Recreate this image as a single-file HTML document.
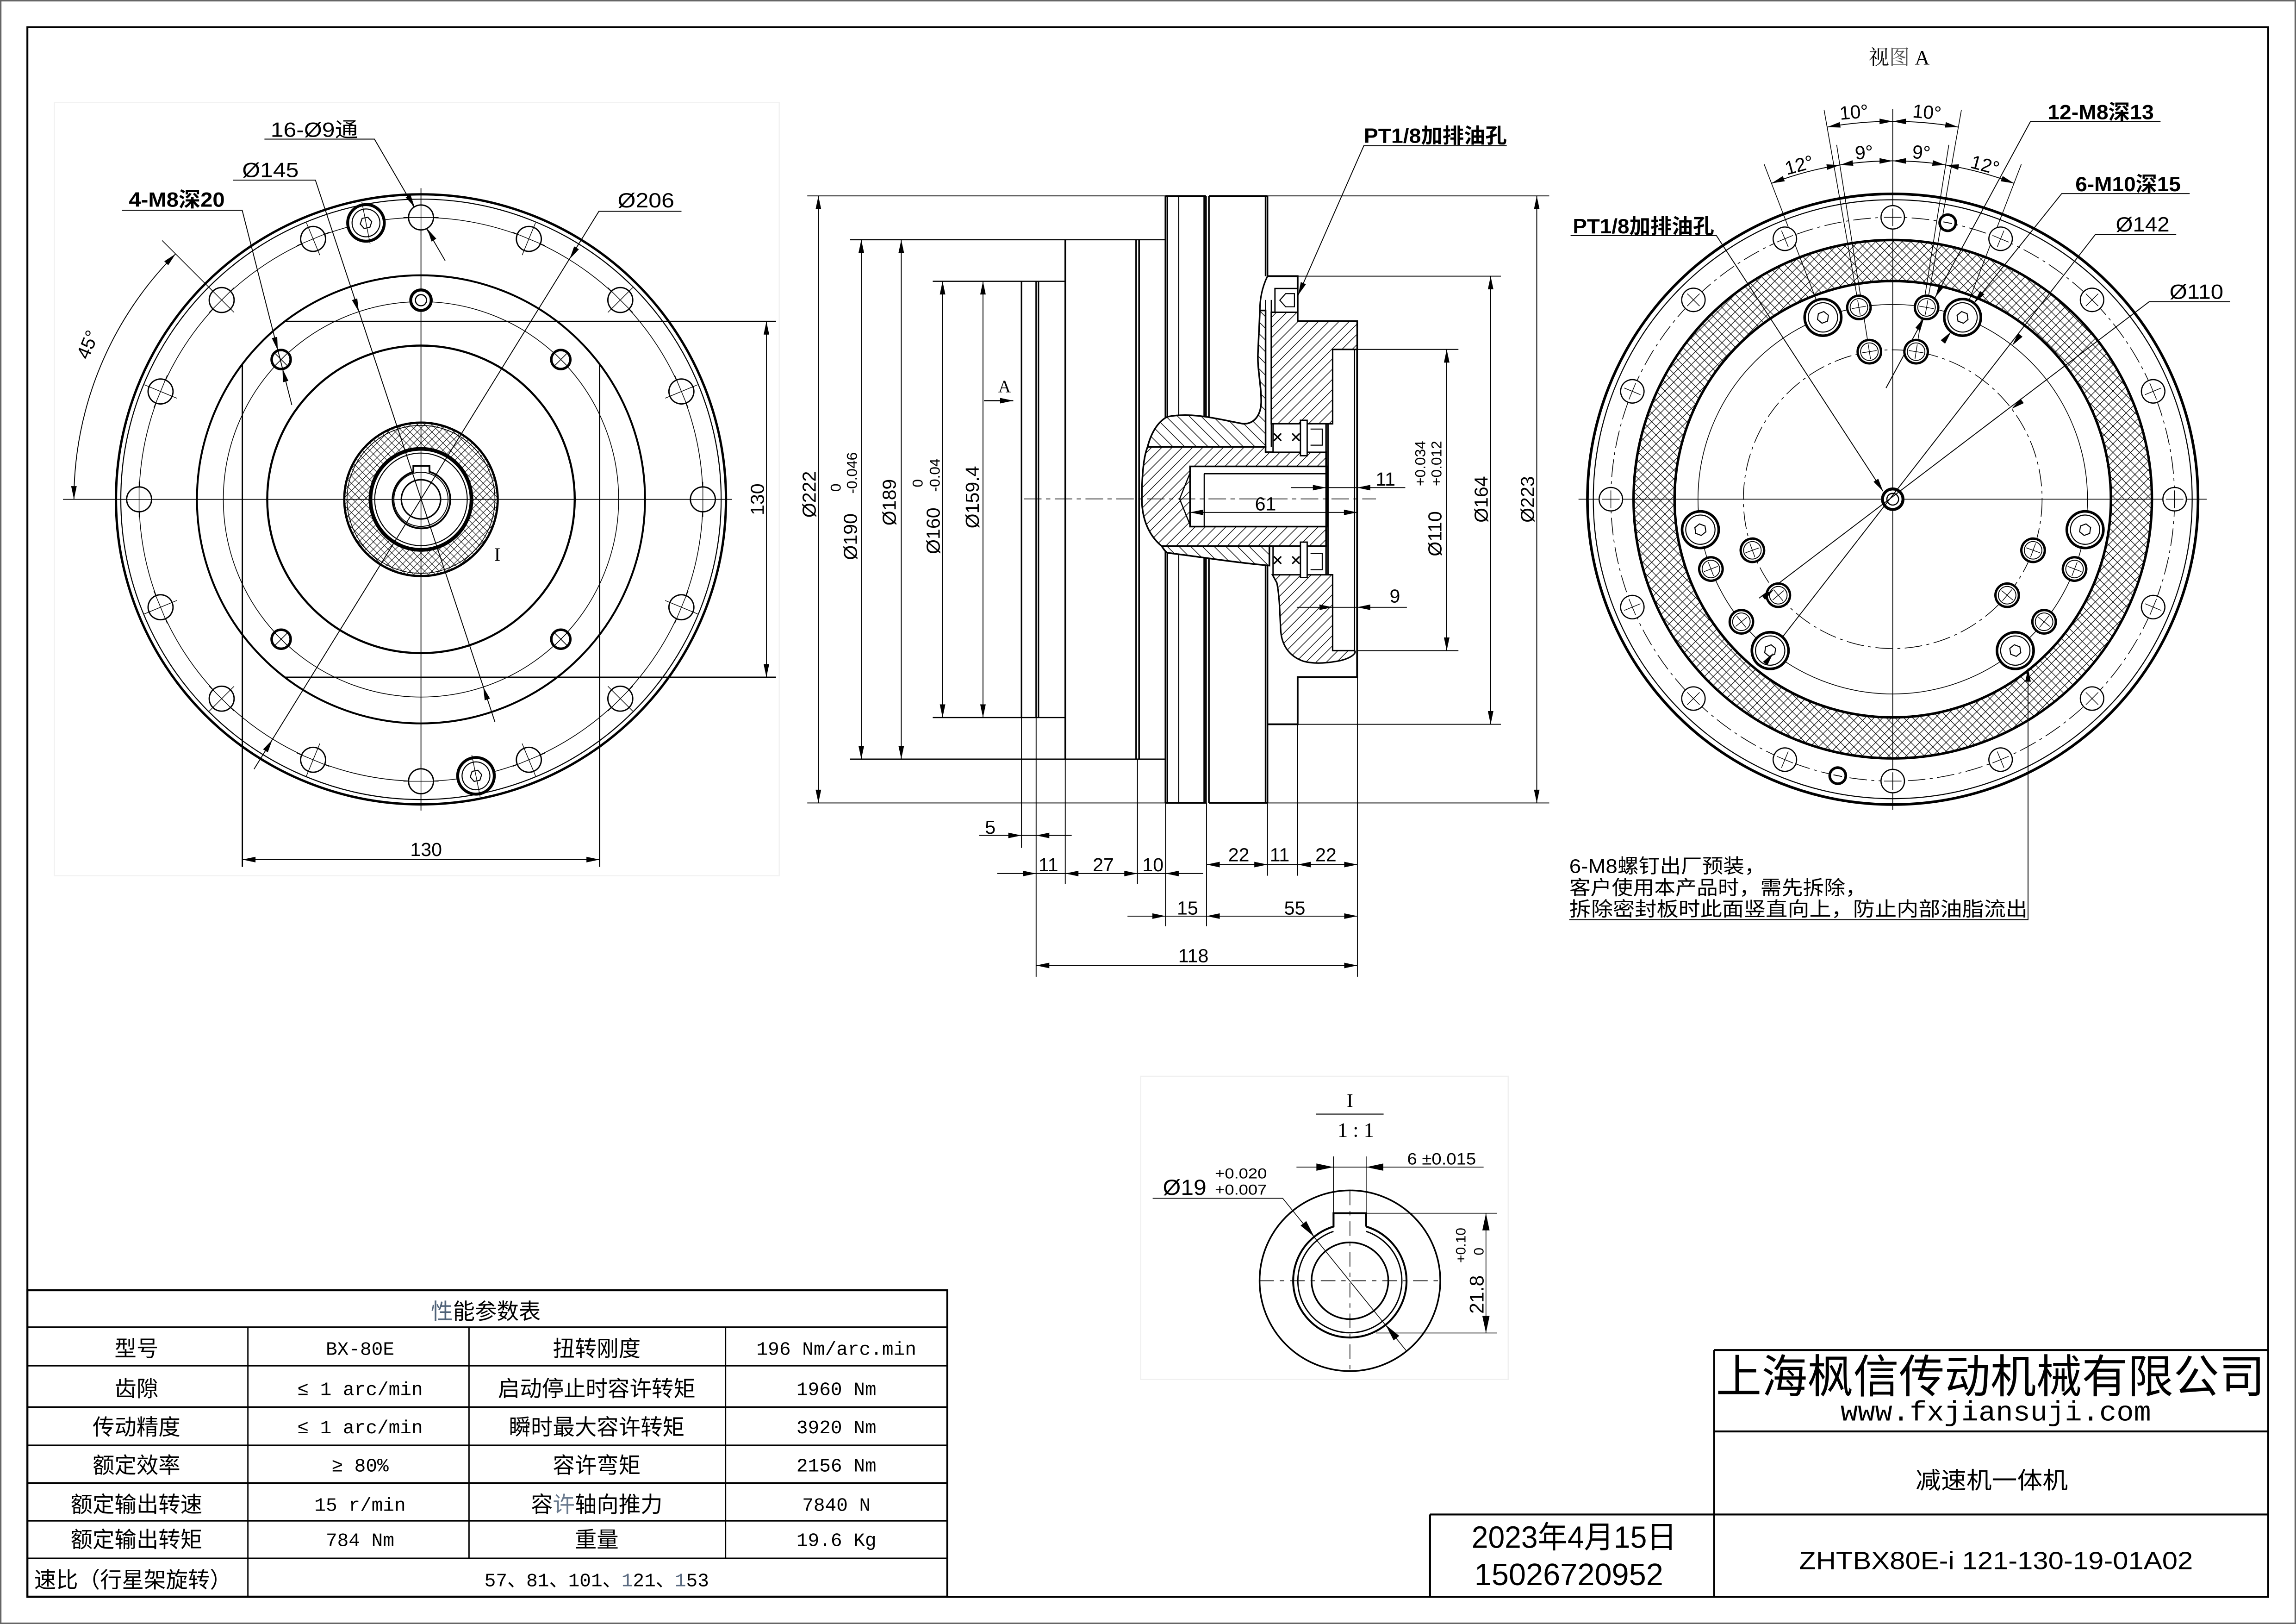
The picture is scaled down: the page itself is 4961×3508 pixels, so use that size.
<!DOCTYPE html>
<html><head><meta charset="utf-8">
<style>
html,body{margin:0;padding:0;background:#fff;}
svg{display:block;}
text{font-family:"Liberation Sans","Noto Sans CJK SC",sans-serif;fill:#000;stroke:none;}
text.sf,.sf text{font-family:"Liberation Serif","Noto Serif CJK SC",serif;}
text.mo,.mo text{font-family:"Liberation Mono","Noto Sans CJK SC",monospace;}
text.cj,.cj text{font-family:"Liberation Sans","Noto Sans CJK SC",sans-serif;}
</style></head><body>
<svg xmlns="http://www.w3.org/2000/svg" width="4961" height="3508" viewBox="0 0 1568 1109" preserveAspectRatio="none">
<defs>
 <path id="ah" d="M0 0 L-9 -1.9 L-9 1.9 Z" fill="#000" stroke="none"/>
 <pattern id="xh" patternUnits="userSpaceOnUse" width="5" height="5">
   <rect width="5" height="5" fill="#fff"/>
   <path d="M0 0 L5 5 M5 0 L0 5" stroke="#000" stroke-width="0.35"/>
 </pattern>
 <pattern id="xh2" patternUnits="userSpaceOnUse" width="6" height="6">
   <rect width="6" height="6" fill="#fff"/>
   <path d="M0 0 L6 6 M6 0 L0 6" stroke="#000" stroke-width="0.4"/>
 </pattern>
 <pattern id="fw" patternUnits="userSpaceOnUse" width="7" height="7">
   <rect width="7" height="7" fill="#fff"/>
   <path d="M-1 1 L1 -1 M0 7 L7 0 M6 8 L8 6" stroke="#000" stroke-width="0.45"/>
 </pattern>
 <pattern id="bw" patternUnits="userSpaceOnUse" width="8" height="8">
   <rect width="8" height="8" fill="#fff"/>
   <path d="M-1 7 L1 9 M0 0 L8 8 M7 -1 L9 1" stroke="#000" stroke-width="0.45"/>
 </pattern>
 <g id="hL">
   <circle cx="0" cy="-192.5" r="8.5" fill="#fff" stroke="#000" stroke-width="0.9"/>
   <path d="M0 -204.5 V-180.5 M-12 -192.5 H12" stroke="#000" stroke-width="0.45" fill="none"/>
 </g>
 <g id="scr">
   <circle cx="0" cy="-192.5" r="12.5" fill="#fff" stroke="#000" stroke-width="2"/>
   <circle cx="0" cy="-192.5" r="9.5" fill="none" stroke="#000" stroke-width="0.7"/>
   <polygon points="4,-192.5 2,-189 -2,-189 -4,-192.5 -2,-196 2,-196" fill="none" stroke="#000" stroke-width="0.7"/>
   <path d="M0 -207 V-178" stroke="#000" stroke-width="0.45"/>
 </g>
 <g id="hR">
   <circle cx="0" cy="-192.5" r="8" fill="#fff" stroke="#000" stroke-width="0.8"/>
   <path d="M0 -198.5 V-186.5 M-6 -192.5 H6" stroke="#000" stroke-width="0.45" fill="none"/>
 </g>
 <g id="m10">
   <circle cx="0" cy="-133" r="12.5" fill="#fff" stroke="#000" stroke-width="1.8"/>
   <circle cx="0" cy="-133" r="10" fill="none" stroke="#000" stroke-width="0.7"/>
   <polygon points="4,-133 2,-129.5 -2,-129.5 -4,-133 -2,-136.5 2,-136.5" fill="none" stroke="#000" stroke-width="0.7"/>
 </g>
 <g id="m8a">
   <circle cx="0" cy="-133" r="8" fill="#fff" stroke="#000" stroke-width="1.6"/>
   <circle cx="0" cy="-133" r="6" fill="none" stroke="#000" stroke-width="0.6"/>
   <path d="M0 -138 V-128 M-5 -133 H5" stroke="#000" stroke-width="0.45"/>
 </g>
 <g id="m8b">
   <circle cx="0" cy="-102" r="8" fill="#fff" stroke="#000" stroke-width="1.6"/>
   <circle cx="0" cy="-102" r="6" fill="none" stroke="#000" stroke-width="0.6"/>
   <path d="M0 -107 V-97 M-5 -102 H5" stroke="#000" stroke-width="0.45"/>
 </g>
 <g id="plug">
   <circle cx="0" cy="-192.5" r="5.5" fill="#fff" stroke="#000" stroke-width="1.8"/>
   <path d="M-3 -192.5 H3" stroke="#000" stroke-width="0.6"/>
 </g>
</defs>

<rect x="0" y="0" width="1568" height="1109" fill="#fff"/>
<rect x="0.5" y="0.5" width="1567" height="1108" fill="none" stroke="#666" stroke-width="1"/>
<!-- frame -->
<rect x="18.7" y="18.6" width="1530.3" height="1071.9" fill="none" stroke="#000" stroke-width="1.3"/>
<rect x="37.2" y="70" width="495" height="528" fill="none" stroke="#f2f2f2" stroke-width="0.8"/>

<!-- ================= LEFT VIEW ================= -->
<g fill="none" stroke="#000">
 <circle cx="287.5" cy="341" r="208.3" stroke-width="1.6"/>
 <circle cx="287.5" cy="341" r="205" stroke-width="0.7"/>
 <circle cx="287.5" cy="341" r="192.5" stroke-width="0.5"/>
 <circle cx="287.5" cy="341" r="153" stroke-width="1.3"/>
 <circle cx="287.5" cy="341" r="135" stroke-width="0.5"/>
 <circle cx="287.5" cy="341" r="105" stroke-width="1.4"/>
 <path d="M165.5 248.7 V592 M409.5 248.7 V592 M194.5 219.5 H530 M194.5 462.5 H530" stroke-width="0.9"/>
 <path d="M43 341 H500 M287.5 128.5 V553.5" stroke-width="0.5"/>
 <!-- hub -->
 <circle cx="287.5" cy="341" r="52.4" fill="url(#xh)" stroke-width="1.5"/>
 <circle cx="287.5" cy="341" r="50.5" stroke-width="0.5"/>
 <circle cx="287.5" cy="341" r="34.5" fill="#fff" stroke-width="2.5"/>
 <circle cx="287.5" cy="341" r="31.6" stroke-width="0.7"/>
 <path d="M282.3 322.2 V318.2 H293.3 V322.2 A19.7 19.7 0 1 1 282.3 322.2 Z" stroke-width="1.2"/>
 <circle cx="287.5" cy="341" r="18.5" stroke-width="0.6"/>
 <circle cx="287.5" cy="341" r="13.4" stroke-width="1"/>
 <path d="M43 341 H500 M287.5 128.5 V553.5" stroke-width="0.5"/>
 <!-- small double circle -->
 <circle cx="287.5" cy="205" r="7" fill="#fff" stroke-width="2"/>
 <circle cx="287.5" cy="205" r="3.8" stroke-width="0.8"/>
 <!-- M8 holes -->
 <g stroke-width="1.7" fill="#fff">
  <circle cx="192" cy="245.5" r="6.5"/><circle cx="383" cy="245.5" r="6.5"/>
  <circle cx="192" cy="436.5" r="6.5"/><circle cx="383" cy="436.5" r="6.5"/>
 </g>
 <path d="M187 240.5 l10 10 M187 250.5 l10 -10 M378 240.5 l10 10 M378 250.5 l10 -10 M187 431.5 l10 10 M187 441.5 l10 -10 M378 431.5 l10 10 M378 441.5 l10 -10" stroke-width="0.5"/>
 <!-- leaders -->
 <path d="M180.6 95 H255.7 L304 178" stroke-width="0.6"/>
 <path d="M159 123 H215.4 L338 493" stroke-width="0.6"/>
 <path d="M83.2 143.6 H165.4 L199.3 276.6" stroke-width="0.6"/>
 <path d="M465.4 144.3 H409 L173.5 525.2" stroke-width="0.6"/>
 <path d="M50.5 341 A237 237 0 0 1 119.9 173.4" stroke-width="0.6"/>
 <path d="M151.4 204.9 L110.7 164.2" stroke-width="0.5"/>
 <path d="M523.4 219.5 V462.5 M165.5 587 H409.5" stroke-width="0.6"/>
</g>
<use href="#hL" transform="translate(287.5 341) rotate(0)"/>
<use href="#hL" transform="translate(287.5 341) rotate(22.5)"/>
<use href="#hL" transform="translate(287.5 341) rotate(45)"/>
<use href="#hL" transform="translate(287.5 341) rotate(67.5)"/>
<use href="#hL" transform="translate(287.5 341) rotate(90)"/>
<use href="#hL" transform="translate(287.5 341) rotate(112.5)"/>
<use href="#hL" transform="translate(287.5 341) rotate(135)"/>
<use href="#hL" transform="translate(287.5 341) rotate(157.5)"/>
<use href="#hL" transform="translate(287.5 341) rotate(180)"/>
<use href="#hL" transform="translate(287.5 341) rotate(202.5)"/>
<use href="#hL" transform="translate(287.5 341) rotate(225)"/>
<use href="#hL" transform="translate(287.5 341) rotate(247.5)"/>
<use href="#hL" transform="translate(287.5 341) rotate(270)"/>
<use href="#hL" transform="translate(287.5 341) rotate(292.5)"/>
<use href="#hL" transform="translate(287.5 341) rotate(315)"/>
<use href="#hL" transform="translate(287.5 341) rotate(337.5)"/>
<use href="#scr" transform="translate(287.5 341) rotate(-11.25)"/>
<use href="#scr" transform="translate(287.5 341) rotate(168.75)"/>
<!-- left arrows -->
<use href="#ah" transform="translate(283.2 141.6) rotate(59.8)"/>
<use href="#ah" transform="translate(291.8 156.2) rotate(239.8)"/>
<use href="#ah" transform="translate(245 212.9) rotate(71.7)"/>
<use href="#ah" transform="translate(330 469.1) rotate(251.7)"/>
<use href="#ah" transform="translate(189.7 239.2) rotate(75.7)"/>
<use href="#ah" transform="translate(192.9 251.8) rotate(255.7)"/>
<use href="#ah" transform="translate(389 176.9) rotate(121.7)"/>
<use href="#ah" transform="translate(186 505.1) rotate(301.7)"/>
<use href="#ah" transform="translate(50.5 341) rotate(90)"/>
<use href="#ah" transform="translate(119.9 173.4) rotate(-45)"/>
<use href="#ah" transform="translate(523.4 219.5) rotate(-90)"/>
<use href="#ah" transform="translate(523.4 462.5) rotate(90)"/>
<use href="#ah" transform="translate(165.5 587) rotate(180)"/>
<use href="#ah" transform="translate(409.5 587) rotate(0)"/>
<!-- left texts -->
<text x="184.8" y="93.5" font-size="14" textLength="59.7" lengthAdjust="spacingAndGlyphs">16-Ø9通</text>
<text x="165.4" y="121" font-size="14" textLength="38.6" lengthAdjust="spacingAndGlyphs">Ø145</text>
<text x="88" y="141.2" font-size="14" font-weight="bold" textLength="65.5" lengthAdjust="spacingAndGlyphs">4-M8深20</text>
<text x="421.8" y="141.6" font-size="14" textLength="38.7" lengthAdjust="spacingAndGlyphs">Ø206</text>
<text transform="translate(64 237) rotate(-67.5)" font-size="13" text-anchor="middle">45°</text>
<text transform="translate(521.7 341) rotate(-90)" font-size="13" text-anchor="middle">130</text>
<text x="291" y="584.6" font-size="13" text-anchor="middle">130</text>
<text x="339.6" y="383" font-size="13" class="sf" text-anchor="middle">I</text>

<!-- ================= SECTION VIEW ================= -->
<g fill="none" stroke="#000">
 <path d="M551.3 133.8 H796 M865.6 133.8 H1058 M551.3 548.3 H796 M865.6 548.3 H1058" stroke-width="0.6"/>
 <path d="M580.5 163.7 H796 M580.5 518.4 H796" stroke-width="0.8"/>
 <path d="M637 192.1 H727.5 M637 490 H727.5" stroke-width="0.8"/>
 <path d="M926.8 238.6 H996 M926.8 444.3 H996 M886.2 188.6 H1025 M886.2 494.6 H1025" stroke-width="0.6"/>
 <path d="M558.9 133.8 V548.3 M588.2 163.7 V518.4 M615.5 163.7 V518.4 M643.7 192.1 V490 M671.3 192.1 V490 M988 238.6 V444.3 M1018 188.6 V494.6 M1049.5 133.8 V548.3" stroke-width="0.6"/>
 <path d="M697.6 192.1 V490 M707.6 192.1 V490 M709.2 192.1 V490" stroke-width="1"/>
 <path d="M727.5 163.7 V518.4 M775.9 163.7 V518.4 M777.9 163.7 V518.4" stroke-width="1.1"/>
 <path d="M795.9 133.8 V548.3 M797.2 133.8 V548.3 M822.4 133.8 V548.3 M823.6 133.8 V548.3 M795.9 133.8 H823.6 M795.9 548.3 H823.6" stroke-width="1.1"/>
 <path d="M805 133.8 V548.3" stroke-width="0.7"/>
 <path d="M825.6 133.8 V548.3 M825.6 133.8 H865.6 M825.6 548.3 H865.6 M864.3 133.8 V188.6 M865.6 133.8 V188.6 M864.3 386.2 V548.3 M865.6 386.2 V548.3" stroke-width="1.1"/>
 <path d="M865.6 188.6 H886.2 V219.3 H926.8 V462.4 H886.2 V494.6 H865.6" stroke-width="1.2"/>
 <path d="M925 238.6 V444.3 M910.1 238.6 H925 M910.1 444.3 H925" stroke-width="0.9"/>
 <path d="M868.2 213.2 H886.2 V219.3 H926.8 V238.6 H910.1 V289.4 H868.2 Z" fill="url(#fw)" stroke-width="1"/>
 <path d="M869 392.5 H910.1 V444.3 H925 C927 446 922 450 913.3 451.5 C905 453 897 453.5 890 451.5 C880 448 875 440 874.6 429.7 C874 420 874 408 872 398 Z" fill="url(#fw)" stroke-width="1"/>
 <rect x="870.7" y="197" width="15.5" height="16.2" fill="#fff" stroke-width="0.9"/>
 <path d="M874 205 L878 200.5 H884 V209.5 H878 Z" stroke-width="0.7"/>
 <path d="M865.6 188.6 C862 196 860.4 204 860.4 212" stroke-width="1"/>
 <path d="M864.3 204.8 V305.2 M868.2 204.8 V305.2" stroke-width="0.8"/>
 <path d="M797.2 284.6 C815 281 835 287 849 289.4 C857 289.5 861 283 861.3 275 C861.5 263 858.5 252 859.1 241 C859.6 229 860.2 219 860.4 212 L864.3 212 L864.3 305.2 L783.7 305.2 C786 296 790.5 288 797.2 284.6 Z" fill="url(#bw)" stroke-width="1.1"/>
 <path d="M783.7 305.2 L864.3 305.2 L864.3 308.8 L905.6 308.8 L905.6 372.9 L793.3 372.9 C785 366 779.8 355 779.8 340.7 C779.8 325 781 312 783.7 305.2 Z" fill="url(#fw)" stroke-width="1.1"/>
 <path d="M793.3 372.9 L866.9 372.9 L866.9 386.2 C842 384 818 380 797.2 377.5 C795.5 376.5 794.5 374.5 793.3 372.9 Z" fill="url(#bw)" stroke-width="1.1"/>
 <rect x="812.7" y="318.5" width="93.5" height="41.1" fill="#fff" stroke-width="1.1"/>
 <path d="M822.4 323.5 H905.6 M822.4 323.5 V359.6 M812.7 323 L805.6 340.7 L812.7 358.4" stroke-width="0.8"/>
 <rect x="869.4" y="289.4" width="36.2" height="19.4" fill="#fff" stroke-width="0.9"/>
 <rect x="869.4" y="372.9" width="36.2" height="19.6" fill="#fff" stroke-width="0.9"/>
 <path d="M870 296 l5 5 M870 301 l5 -5 M882.5 296 l5 5 M882.5 301 l5 -5 M870 380 l5 5 M870 385 l5 -5 M882.5 380 l5 5 M882.5 385 l5 -5" stroke-width="1"/>
 <rect x="888.1" y="287" width="4.6" height="24.2" fill="#fff" stroke-width="0.9"/>
 <rect x="888.1" y="370.2" width="4.6" height="24.2" fill="#fff" stroke-width="0.9"/>
 <path d="M895 293 H903 V304 H895 M895 378 H903 V389 H895" stroke-width="0.7"/>
 <path d="M905.6 289.4 V392.5 M906.9 289.4 V392.5" stroke-width="1"/>
 <path d="M699.3 340.7 H939.7" stroke-width="0.5" stroke-dasharray="12 3 3 3"/>
 <path d="M881.7 333 H959.7 M812.7 349.9 H926.8 M885.6 414.7 H960.8" stroke-width="0.6"/>
 <path d="M697.6 490 V579 M707.6 490 V667 M727.5 518.4 V603.8 M776.8 518.4 V603.8 M796 548.3 V632.5 M824 548.3 V632.5 M865.6 548.3 V598 M886.2 494.6 V598 M927 462.4 V667" stroke-width="0.6"/>
 <path d="M668.7 570.5 H731.9 M681 596.5 H821.7 M824 590.4 H927 M770 625.6 H927 M707.6 659.3 H927" stroke-width="0.6"/>
 <path d="M1029 99.5 H931.4 L886.5 201.6" stroke-width="0.6"/>
 <path d="M672 273.6 H692" stroke-width="0.8"/>
</g>
<use href="#ah" transform="translate(558.9 133.8) rotate(-90)"/><use href="#ah" transform="translate(558.9 548.3) rotate(90)"/>
<use href="#ah" transform="translate(588.2 163.7) rotate(-90)"/><use href="#ah" transform="translate(588.2 518.4) rotate(90)"/>
<use href="#ah" transform="translate(615.5 163.7) rotate(-90)"/><use href="#ah" transform="translate(615.5 518.4) rotate(90)"/>
<use href="#ah" transform="translate(643.7 192.1) rotate(-90)"/><use href="#ah" transform="translate(643.7 490) rotate(90)"/>
<use href="#ah" transform="translate(671.3 192.1) rotate(-90)"/><use href="#ah" transform="translate(671.3 490) rotate(90)"/>
<use href="#ah" transform="translate(988 238.6) rotate(-90)"/><use href="#ah" transform="translate(988 444.3) rotate(90)"/>
<use href="#ah" transform="translate(1018 188.6) rotate(-90)"/><use href="#ah" transform="translate(1018 494.6) rotate(90)"/>
<use href="#ah" transform="translate(1049.5 133.8) rotate(-90)"/><use href="#ah" transform="translate(1049.5 548.3) rotate(90)"/>
<use href="#ah" transform="translate(905.6 333) rotate(0)"/><use href="#ah" transform="translate(926.8 333) rotate(180)"/>
<use href="#ah" transform="translate(812.7 349.9) rotate(180)"/><use href="#ah" transform="translate(926.8 349.9) rotate(0)"/>
<use href="#ah" transform="translate(910.1 414.7) rotate(0)"/><use href="#ah" transform="translate(926.8 414.7) rotate(180)"/>
<use href="#ah" transform="translate(697.6 570.5) rotate(0)"/><use href="#ah" transform="translate(707.6 570.5) rotate(180)"/>
<use href="#ah" transform="translate(707.6 596.5) rotate(0)"/><use href="#ah" transform="translate(727.5 596.5) rotate(180)"/>
<use href="#ah" transform="translate(776.8 596.5) rotate(0)"/><use href="#ah" transform="translate(796 596.5) rotate(180)"/>
<use href="#ah" transform="translate(824 590.4) rotate(180)"/><use href="#ah" transform="translate(865.6 590.4) rotate(0)"/>
<use href="#ah" transform="translate(886.2 590.4) rotate(180)"/><use href="#ah" transform="translate(927 590.4) rotate(0)"/>
<use href="#ah" transform="translate(796 625.6) rotate(0)"/><use href="#ah" transform="translate(824 625.6) rotate(180)"/>
<use href="#ah" transform="translate(927 625.6) rotate(0)"/>
<use href="#ah" transform="translate(707.6 659.3) rotate(180)"/><use href="#ah" transform="translate(927 659.3) rotate(0)"/>
<use href="#ah" transform="translate(886.5 201.6) rotate(113.6)"/>
<use href="#ah" transform="translate(692 273.6) rotate(0)"/>
<text transform="translate(557 337.6) rotate(-90)" font-size="13" text-anchor="middle">Ø222</text>
<text transform="translate(585.2 366.5) rotate(-90)" font-size="13" text-anchor="middle">Ø190</text>
<text transform="translate(585.2 323) rotate(-90)" font-size="10" text-anchor="middle">-0.046</text>
<text transform="translate(574.2 333) rotate(-90)" font-size="10" text-anchor="middle">0</text>
<text transform="translate(611.8 343) rotate(-90)" font-size="13" text-anchor="middle">Ø189</text>
<text transform="translate(641.7 362.5) rotate(-90)" font-size="13" text-anchor="middle">Ø160</text>
<text transform="translate(641.7 324.5) rotate(-90)" font-size="10" text-anchor="middle">-0.04</text>
<text transform="translate(630 330) rotate(-90)" font-size="10" text-anchor="middle">0</text>
<text transform="translate(668.4 339.5) rotate(-90)" font-size="13" text-anchor="middle">Ø159.4</text>
<text transform="translate(984.4 364.5) rotate(-90)" font-size="13" text-anchor="middle">Ø110</text>
<text transform="translate(984.4 316.5) rotate(-90)" font-size="10" text-anchor="middle">+0.012</text>
<text transform="translate(973.4 316.5) rotate(-90)" font-size="10" text-anchor="middle">+0.034</text>
<text transform="translate(1016 341) rotate(-90)" font-size="13" text-anchor="middle">Ø164</text>
<text transform="translate(1047.6 341) rotate(-90)" font-size="13" text-anchor="middle">Ø223</text>
<text x="946.2" y="331.6" font-size="13" text-anchor="middle">11</text>
<text x="864.3" y="348.6" font-size="13" text-anchor="middle">61</text>
<text x="952.6" y="411.5" font-size="13" text-anchor="middle">9</text>
<text x="676.3" y="569.4" font-size="13" text-anchor="middle">5</text>
<text x="716" y="595" font-size="13" text-anchor="middle">11</text>
<text x="753.5" y="595" font-size="13" text-anchor="middle">27</text>
<text x="787.4" y="595" font-size="13" text-anchor="middle">10</text>
<text x="846" y="588.2" font-size="13" text-anchor="middle">22</text>
<text x="873.9" y="588.2" font-size="13" text-anchor="middle">11</text>
<text x="905.5" y="588.2" font-size="13" text-anchor="middle">22</text>
<text x="811" y="624.6" font-size="13" text-anchor="middle">15</text>
<text x="884.2" y="624.6" font-size="13" text-anchor="middle">55</text>
<text x="815" y="657.1" font-size="13" text-anchor="middle">118</text>
<text x="686" y="268" font-size="12" class="sf" text-anchor="middle">A</text>
<text x="931.4" y="97.5" font-size="14" font-weight="bold" textLength="97.6" lengthAdjust="spacingAndGlyphs">PT1/8加排油孔</text>

<!-- ================= RIGHT VIEW ================= -->
<g fill="none" stroke="#000">
 <circle cx="1292.6" cy="340.9" r="208.5" stroke-width="1.8"/>
 <circle cx="1292.6" cy="340.9" r="204.5" stroke-width="0.7"/>
 <circle cx="1292.6" cy="340.9" r="192.5" stroke-width="0.5" stroke-dasharray="12 3 2 3"/>
 <path d="M1115.6 340.9 a177 177 0 1 0 354 0 a177 177 0 1 0 -354 0 Z M1143.6 340.9 a149 149 0 1 0 298 0 a149 149 0 1 0 -298 0 Z" fill="url(#xh2)" fill-rule="evenodd" stroke="none"/>
 <circle cx="1292.6" cy="340.9" r="177" stroke-width="1.7"/>
 <circle cx="1292.6" cy="340.9" r="149" stroke-width="1.7"/>
 <circle cx="1292.6" cy="340.9" r="133" stroke-width="0.5"/>
 <circle cx="1292.6" cy="340.9" r="102" stroke-width="0.5" stroke-dasharray="12 3 2 3"/>
 <path d="M1078 340.9 H1507 M1292.6 74.4 V553" stroke-width="0.5"/>
 <circle cx="1292.6" cy="340.9" r="7" fill="#fff" stroke-width="2"/>
 <circle cx="1292.6" cy="340.9" r="4" stroke-width="0.8"/>
 <path d="M1316.9 203 L1339.5 75 M1268.3 203 L1245.7 75 M1309.8 232.3 L1330.9 98.9 M1275.4 232.3 L1254.3 98.9 M1344.9 204.6 L1380.4 112.2 M1240.3 204.6 L1204.8 112.2" stroke-width="0.5"/>
 <path d="M1247.8 86.8 A258 258 0 0 1 1337.4 86.8" stroke-width="0.6"/>
 <path d="M1209.8 125.2 A231 231 0 0 1 1375.4 125.2" stroke-width="0.6"/>
 <path d="M1072.6 160.9 H1172.2 L1286 335.5" stroke-width="0.6"/>
 <path d="M1475.5 83.1 H1386.6 L1288 265" stroke-width="0.6"/>
 <path d="M1495.4 132.2 H1408 L1327.8 232.3" stroke-width="0.6"/>
 <path d="M1486.2 160.1 H1431 L1202.8 453.7" stroke-width="0.6"/>
 <path d="M1523 206 H1467.8 L1201.3 408.5" stroke-width="0.6"/>
 <path d="M1071.7 628 H1385 V456.5" stroke-width="0.6"/>
</g>
<use href="#hR" transform="translate(1292.6 340.9) rotate(0)"/>
<use href="#hR" transform="translate(1292.6 340.9) rotate(22.5)"/>
<use href="#hR" transform="translate(1292.6 340.9) rotate(45)"/>
<use href="#hR" transform="translate(1292.6 340.9) rotate(67.5)"/>
<use href="#hR" transform="translate(1292.6 340.9) rotate(90)"/>
<use href="#hR" transform="translate(1292.6 340.9) rotate(112.5)"/>
<use href="#hR" transform="translate(1292.6 340.9) rotate(135)"/>
<use href="#hR" transform="translate(1292.6 340.9) rotate(157.5)"/>
<use href="#hR" transform="translate(1292.6 340.9) rotate(180)"/>
<use href="#hR" transform="translate(1292.6 340.9) rotate(202.5)"/>
<use href="#hR" transform="translate(1292.6 340.9) rotate(225)"/>
<use href="#hR" transform="translate(1292.6 340.9) rotate(247.5)"/>
<use href="#hR" transform="translate(1292.6 340.9) rotate(270)"/>
<use href="#hR" transform="translate(1292.6 340.9) rotate(292.5)"/>
<use href="#hR" transform="translate(1292.6 340.9) rotate(315)"/>
<use href="#hR" transform="translate(1292.6 340.9) rotate(337.5)"/>
<use href="#plug" transform="translate(1292.6 340.9) rotate(11.25)"/>
<use href="#plug" transform="translate(1292.6 340.9) rotate(-168.75)"/>
<use href="#m10" transform="translate(1292.6 340.9) rotate(21)"/>
<use href="#m10" transform="translate(1292.6 340.9) rotate(-21)"/>
<use href="#m10" transform="translate(1292.6 340.9) rotate(99)"/>
<use href="#m10" transform="translate(1292.6 340.9) rotate(-99)"/>
<use href="#m10" transform="translate(1292.6 340.9) rotate(141)"/>
<use href="#m10" transform="translate(1292.6 340.9) rotate(-141)"/>
<use href="#m8a" transform="translate(1292.6 340.9) rotate(10)"/>
<use href="#m8a" transform="translate(1292.6 340.9) rotate(-10)"/>
<use href="#m8a" transform="translate(1292.6 340.9) rotate(111)"/>
<use href="#m8a" transform="translate(1292.6 340.9) rotate(-111)"/>
<use href="#m8a" transform="translate(1292.6 340.9) rotate(129)"/>
<use href="#m8a" transform="translate(1292.6 340.9) rotate(-129)"/>
<use href="#m8b" transform="translate(1292.6 340.9) rotate(9)"/>
<use href="#m8b" transform="translate(1292.6 340.9) rotate(-9)"/>
<use href="#m8b" transform="translate(1292.6 340.9) rotate(110)"/>
<use href="#m8b" transform="translate(1292.6 340.9) rotate(-110)"/>
<use href="#m8b" transform="translate(1292.6 340.9) rotate(130)"/>
<use href="#m8b" transform="translate(1292.6 340.9) rotate(-130)"/>
<use href="#ah" transform="translate(1286 335.5) rotate(57.1)"/>
<use href="#ah" transform="translate(1321.7 202.9) rotate(118.5)"/>
<use href="#ah" transform="translate(1314 216.9) rotate(298.5)"/>
<use href="#ah" transform="translate(1348.1 206.9) rotate(128.7)"/>
<use href="#ah" transform="translate(1332.5 226.5) rotate(308.7)"/>
<use href="#ah" transform="translate(1374.2 235.9) rotate(127.9)"/>
<use href="#ah" transform="translate(1211 446) rotate(307.9)"/>
<use href="#ah" transform="translate(1373.8 279.2) rotate(142.8)"/>
<use href="#ah" transform="translate(1211.4 402.6) rotate(322.8)"/>
<use href="#ah" transform="translate(1385 456.5) rotate(-90)"/>
<use href="#ah" transform="translate(1247.8 86.8) rotate(170)"/>
<use href="#ah" transform="translate(1292.6 82.9) rotate(0)"/>
<use href="#ah" transform="translate(1292.6 82.9) rotate(180)"/>
<use href="#ah" transform="translate(1337.4 86.8) rotate(10)"/>
<use href="#ah" transform="translate(1256.5 112.7) rotate(171)"/>
<use href="#ah" transform="translate(1292.6 109.9) rotate(0)"/>
<use href="#ah" transform="translate(1292.6 109.9) rotate(180)"/>
<use href="#ah" transform="translate(1328.7 112.7) rotate(9)"/>
<use href="#ah" transform="translate(1209.8 125.2) rotate(159)"/>
<use href="#ah" transform="translate(1256.5 112.7) rotate(-9)"/>
<use href="#ah" transform="translate(1328.7 112.7) rotate(189)"/>
<use href="#ah" transform="translate(1375.4 125.2) rotate(21)"/>
<text x="1297" y="44" font-size="14" class="sf" text-anchor="middle">视<tspan fill="#555">图</tspan> A</text>
<text transform="translate(1266.5 81) rotate(-5)" font-size="13" text-anchor="middle">10°</text>
<text transform="translate(1315.6 81) rotate(5)" font-size="13" text-anchor="middle">10°</text>
<text transform="translate(1273.3 108.5) rotate(-4)" font-size="13" text-anchor="middle">9°</text>
<text transform="translate(1311.9 108.5) rotate(4)" font-size="13" text-anchor="middle">9°</text>
<text transform="translate(1229.8 117) rotate(-15)" font-size="13" text-anchor="middle">12°</text>
<text transform="translate(1354.5 117) rotate(15)" font-size="13" text-anchor="middle">12°</text>
<text x="1398.3" y="81.4" font-size="14" font-weight="bold" textLength="72.6" lengthAdjust="spacingAndGlyphs">12-M8深13</text>
<text x="1417.3" y="130.5" font-size="14" font-weight="bold" textLength="72" lengthAdjust="spacingAndGlyphs">6-M10深15</text>
<text x="1444.9" y="158" font-size="14" textLength="36.7" lengthAdjust="spacingAndGlyphs">Ø142</text>
<text x="1481.6" y="204" font-size="14" textLength="36.8" lengthAdjust="spacingAndGlyphs">Ø110</text>
<text x="1074.1" y="159.3" font-size="14" font-weight="bold" textLength="96.5" lengthAdjust="spacingAndGlyphs">PT1/8加排油孔</text>
<text x="1071.7" y="596" font-size="13.5" textLength="134" lengthAdjust="spacingAndGlyphs">6-M8螺钉出厂预装，</text>
<text x="1071.7" y="611" font-size="13.5" textLength="203" lengthAdjust="spacingAndGlyphs">客户使用本产品时，需先拆除，</text>
<text x="1071.7" y="625.5" font-size="13.5" textLength="313" lengthAdjust="spacingAndGlyphs">拆除密封板时此面竖直向上，防止内部油脂流出</text>

<!-- ================= DETAIL I ================= -->
<rect x="779" y="735" width="251" height="207" fill="none" stroke="#f0f0f0" stroke-width="0.8"/>
<g fill="none" stroke="#000">
 <path d="M898.6 760.8 H944.9" stroke-width="0.7"/>
 <circle cx="921.9" cy="874.6" r="61.7" stroke-width="1.1"/>
 <path d="M933 837.6 V828.5 H910.7 V837.6 A38.7 38.7 0 1 0 933 837.6" stroke-width="1.3"/>
 <path d="M910.7 840.9 A35.5 35.5 0 1 0 933 840.9" stroke-width="0.9"/>
 <circle cx="921.9" cy="874.6" r="26.2" stroke-width="1.1"/>
 <path d="M860 874.6 H984 M921.9 813 V936.5" stroke-width="0.5" stroke-dasharray="10 4 3 4"/>
 <path d="M910.7 789.7 V828.5 M933 789.7 V828.5 M885.4 797 H1013.2" stroke-width="0.5"/>
 <path d="M787.2 818.3 H876 L960.3 922.3" stroke-width="0.5"/>
 <path d="M1014.8 828.5 V910.3 M933 828.5 H1022.3 M939.6 910.3 H1022.3" stroke-width="0.5"/>
</g>
<use href="#ah" transform="translate(910.7 797) rotate(0) scale(1.3)"/>
<use href="#ah" transform="translate(933 797) rotate(180) scale(1.3)"/>
<use href="#ah" transform="translate(897.5 844.5) rotate(51) scale(1.3)"/>
<use href="#ah" transform="translate(946.3 904.7) rotate(231) scale(1.3)"/>
<use href="#ah" transform="translate(1014.8 828.5) rotate(-90) scale(1.3)"/>
<use href="#ah" transform="translate(1014.8 910.3) rotate(90) scale(1.3)"/>
<text x="921.9" y="755.8" font-size="13" class="sf" text-anchor="middle">I</text>
<text x="925.9" y="776.3" font-size="14" class="sf" text-anchor="middle">1 : 1</text>
<text x="961" y="795.3" font-size="11" textLength="47" lengthAdjust="spacingAndGlyphs">6 ±0.015</text>
<text x="794.1" y="816" font-size="15" textLength="29.8" lengthAdjust="spacingAndGlyphs">Ø19</text>
<text x="829.7" y="804.8" font-size="10" textLength="35.5" lengthAdjust="spacingAndGlyphs">+0.020</text>
<text x="829.7" y="815.8" font-size="10" textLength="35.5" lengthAdjust="spacingAndGlyphs">+0.007</text>
<text transform="translate(1013.2 884) rotate(-90)" font-size="13.5" text-anchor="middle">21.8</text>
<text transform="translate(1000.8 850.4) rotate(-90)" font-size="9.5" text-anchor="middle">+0.10</text>
<text transform="translate(1013.2 854.6) rotate(-90)" font-size="9.5" text-anchor="middle">0</text>

<!-- ================= TABLE ================= -->
<g fill="none" stroke="#000">
 <rect x="18.7" y="881.1" width="628.2" height="209.2" stroke-width="1.3"/>
 <path d="M18.7 906.3 H646.9 M18.7 932.6 H646.9 M18.7 960.9 H646.9 M18.7 987 H646.9 M18.7 1012.7 H646.9 M18.7 1038.5 H646.9 M18.7 1064.2 H646.9" stroke-width="1.1"/>
 <path d="M169.3 906.3 V1090.3 M320.3 906.3 V1064.2 M495.5 906.3 V1064.2" stroke-width="0.9"/>
</g>
<g font-size="15" text-anchor="middle" class="cj">
 <text x="331.8" y="900.8"><tspan fill="#4f6278">性</tspan>能参数表</text>
 <text x="93.2" y="926.2">型号</text>
 <text x="407.5" y="926.2">扭转刚度</text>
 <text x="93.2" y="953.7">齿隙</text>
 <text x="407.5" y="953.7">启动停止时容许转矩</text>
 <text x="93.2" y="979.8">传动精度</text>
 <text x="407.5" y="979.8">瞬时最大容许转矩</text>
 <text x="93.2" y="1005.9">额定效率</text>
 <text x="407.5" y="1005.9">容许弯矩</text>
 <text x="93.2" y="1032.7">额定输出转速</text>
 <text x="407.5" y="1032.7">容<tspan fill="#6a7a8e">许</tspan>轴向推力</text>
 <text x="93.2" y="1056.7">额定输出转矩</text>
 <text x="407.5" y="1056.7">重量</text>
 <text x="90.8" y="1084.2">速比（行星架旋转）</text>
</g>
<g font-size="13" text-anchor="middle" class="mo">
 <text x="245.9" y="925.2">BX-80E</text>
 <text x="571.2" y="925.2">196 Nm/arc.min</text>
 <text x="245.9" y="952.7">≤ 1 arc/min</text>
 <text x="571.2" y="952.7">1960 Nm</text>
 <text x="245.9" y="978.8">≤ 1 arc/min</text>
 <text x="571.2" y="978.8">3920 Nm</text>
 <text x="245.9" y="1004.9">≥ 80%</text>
 <text x="571.2" y="1004.9">2156 Nm</text>
 <text x="245.9" y="1031.7">15 r/min</text>
 <text x="571.2" y="1031.7">7840 N</text>
 <text x="245.9" y="1055.7">784 Nm</text>
 <text x="571.2" y="1055.7">19.6 Kg</text>
 <text x="407.5" y="1083.2">57、81、101、<tspan fill="#5a6a80">1</tspan>21、<tspan fill="#5a6a80">1</tspan>53</text>
</g>

<!-- ================= TITLE BLOCK ================= -->
<g fill="none" stroke="#000">
 <path d="M1170.6 921.9 H1549 M1170.6 921.9 V1090.5 M1170.6 977.5 H1549 M976.6 1034.2 H1549 M976.6 1034.2 V1090.5" stroke-width="1.3"/>
</g>
<text x="1171.8" y="951" font-size="31" class="cj" textLength="375" lengthAdjust="spacingAndGlyphs">上海枫信传动机械有限公司</text>
<text x="1257" y="970" font-size="19" class="mo" textLength="212" lengthAdjust="spacingAndGlyphs">www.fxjiansuji.com</text>
<text x="1308.2" y="1016.5" font-size="16" class="cj" textLength="104" lengthAdjust="spacingAndGlyphs">减速机一体机</text>
<text x="1005" y="1057" font-size="21" class="cj" textLength="140" lengthAdjust="spacingAndGlyphs">2023年4月15日</text>
<text x="1006.9" y="1082.5" font-size="21" textLength="129" lengthAdjust="spacingAndGlyphs">15026720952</text>
<text x="1228.6" y="1071.5" font-size="17" textLength="269" lengthAdjust="spacingAndGlyphs">ZHTBX80E-i 121-130-19-01A02</text>
</svg>
</body></html>
